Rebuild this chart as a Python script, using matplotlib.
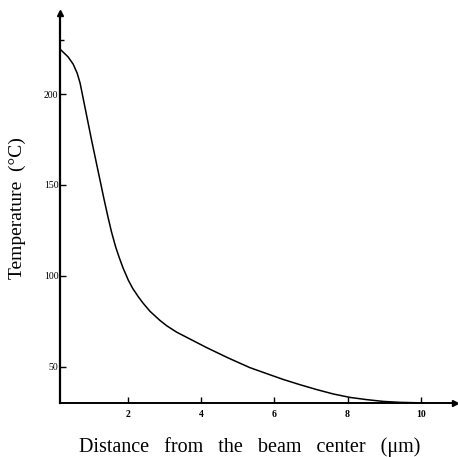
import matplotlib.pyplot as plt

# values
distance_um = [0.17, 0.36, 0.50, 0.61, 0.69, 0.77, 0.90, 1.00, 1.12, 1.23, 1.34, 1.45,
               1.55, 1.66, 1.76, 1.86, 2.01, 2.13, 2.28, 2.41, 2.60, 2.87, 3.06, 3.33,
               3.60, 4.15, 4.73, 5.33, 5.79, 6.24, 6.70, 7.16, 7.61, 8.07, 8.52, 8.98,
               9.43, 10.06]
temperature_c = [224.2, 220.5, 216.5, 211.5, 206, 198, 185, 175, 163.5, 153, 142.5, 132.5,
                 124, 116, 110, 104.5, 97.5, 93, 88.5, 85, 80.5, 75.5, 72.5, 69,
                 66.2, 60.5, 54.9, 49.5, 46.2, 43, 40.1, 37.4, 35, 33.1, 31.9, 30.9,
                 30.4, 30.1]

x_ticks = [2, 4, 6, 8, 10]
y_ticks = [50, 100, 150, 200]

plt.rcParams['font.family'] = ['Liberation Serif', 'DejaVu Serif']

fig = plt.figure(figsize=(4.58, 4.57), dpi=100)
ax = fig.add_axes([0.131, 0.118, 0.862, 0.853])

ax.plot(distance_um, temperature_c, color='black', linewidth=1.1,
        solid_joinstyle='round')

ax.set_xlim(0.14, 10.93)
ax.set_ylim(30, 244.5)

ax.spines['top'].set_visible(False)
ax.spines['right'].set_visible(False)
ax.spines['left'].set_linewidth(1.6)
ax.spines['bottom'].set_linewidth(1.4)

# arrow heads at the axis ends
ax.plot(1, 0, '>', color='black', markersize=5, transform=ax.transAxes, clip_on=False)
ax.plot(0, 1, '^', color='black', markersize=5, transform=ax.transAxes, clip_on=False)

ax.set_xticks(x_ticks)
ax.set_yticks(y_ticks)
ax.set_yticks([230], minor=True)
ax.set_xticklabels([str(t) for t in x_ticks], fontsize=7, fontweight='bold')
ax.set_yticklabels([str(t) for t in y_ticks], fontsize=7)
ax.tick_params(axis='x', direction='in', length=4, width=1, pad=5)
ax.tick_params(axis='y', direction='in', length=4, width=1, pad=1)
ax.tick_params(axis='y', which='minor', direction='in', length=3, width=1)

ax.set_xlabel('Distance   from   the   beam   center   (\u03bcm)', fontsize=14.5)
ax.xaxis.set_label_coords(0.48, -0.088)
ax.set_ylabel('Temperature  (\u00b0C)', fontsize=14, labelpad=13)

fig.savefig('out.png', dpi=100)
